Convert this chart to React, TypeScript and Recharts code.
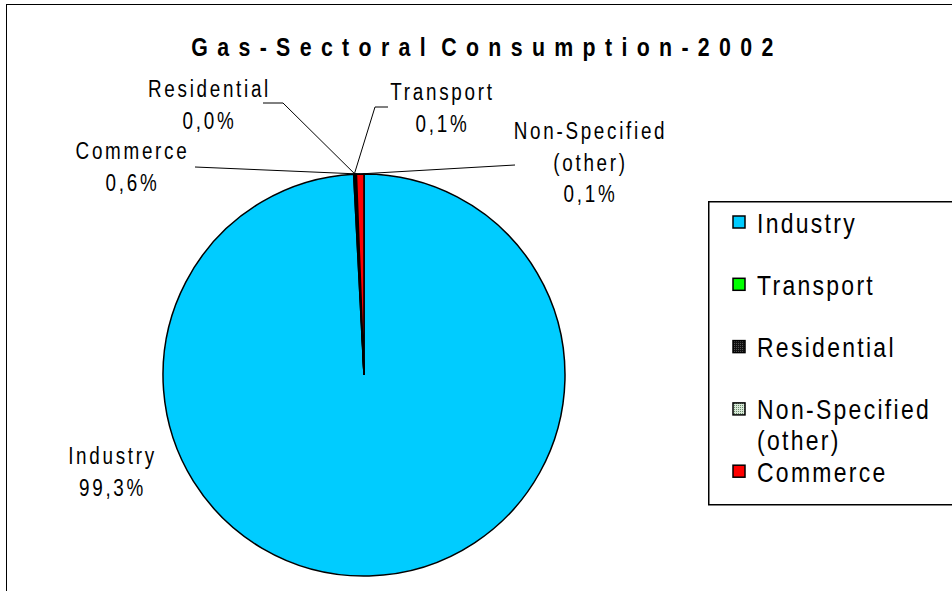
import React from "react";
import { PieChart, Pie, Cell, Legend } from "recharts";

const sectors = ["Industry", "Transport", "Residential", "Non-Specified (other)", "Commerce"];
const shares = [99.3, 0.1, 0.02, 0.1, 0.6];
const colors = ["#00CCFF", "#00FF00", "#111111", "#C8DCC8", "#FF0000"];

const data = sectors.map((name, i) => ({ name, value: shares[i] }));

const FONT = "'Liberation Sans', Arial, sans-serif";
const NARROW = 0.82; // fake Arial Narrow by squeezing Liberation Sans

// label placement relative to the pie centre
const labelLayout: Record<string, { dx: number; dy: number; lines: string[]; leader?: [number, number][] }> = {
  Industry: { dx: -253, dy: 89, lines: ["Industry"] },
  Transport: { dx: 77, dy: -275, lines: ["Transport"], leader: [[11, -268], [24, -268]] },
  Residential: { dx: -156, dy: -278, lines: ["Residential"], leader: [[-81, -272], [-101, -272]] },
  "Non-Specified (other)": { dx: 225, dy: -236, lines: ["Non-Specified", "(other)"], leader: [[151, -210]] },
  Commerce: { dx: -233, dy: -216, lines: ["Commerce"], leader: [[-169, -208]] },
};

const RAD = Math.PI / 180;

function NarrowText({ x, y, size, spacing, anchor = "start", bold = false, wordSpacing = 0, children }: any) {
  return (
    <text
      transform={`translate(${x},${y}) scale(${NARROW},1)`}
      textAnchor={anchor}
      fontFamily={FONT}
      fontSize={size}
      fontWeight={bold ? "bold" : "normal"}
      letterSpacing={spacing}
      wordSpacing={wordSpacing}
      fill="#000"
    >
      {children}
    </text>
  );
}

function renderLabel(props: any) {
  const { cx, cy, midAngle, outerRadius, name, value } = props;
  const lay = labelLayout[name];
  if (!lay) return null;
  const ax = cx + outerRadius * Math.cos(-midAngle * RAD);
  const ay = cy + outerRadius * Math.sin(-midAngle * RAD);
  const pct = value.toFixed(1).replace(".", ",") + "%";
  const lines = [...lay.lines, pct];
  return (
    <g>
      {lay.leader && (
        <polyline
          points={[[ax, ay], ...lay.leader.map(([x, y]) => [cx + x, cy + y])].map((p) => p.join(",")).join(" ")}
          fill="none"
          stroke="#000"
          strokeWidth={1}
        />
      )}
      {lines.map((t, i) => (
        <NarrowText key={i} x={cx + lay.dx + 1.5} y={cy + lay.dy + i * 31.5} size={23} spacing={3.3} anchor="middle">
          {t}
        </NarrowText>
      ))}
    </g>
  );
}

function renderLegend() {
  const rows: string[][] = [["Industry"], ["Transport"], ["Residential"], ["Non-Specified", "(other)"], ["Commerce"]];
  const fills = [colors[0], colors[1], "url(#resPat)", "url(#nsPat)", colors[4]];
  return (
    <svg width={250} height={306} style={{ display: "block" }}>
      <defs>
        <pattern id="resPat" width={2} height={2} patternUnits="userSpaceOnUse">
          <rect width={2} height={2} fill="#111" />
          <rect width={1} height={1} fill="#555" />
        </pattern>
        <pattern id="nsPat" width={2} height={2} patternUnits="userSpaceOnUse">
          <rect width={2} height={2} fill="#D8E8D8" />
          <rect width={1} height={1} fill="#6A8A6A" />
        </pattern>
      </defs>
      <rect x={0.75} y={0.75} width={260} height={303} fill="#fff" stroke="#000" strokeWidth={1.5} />
      {rows.map((parts, i) => {
        const cyRow = 21 + i * 62.3;
        return (
          <g key={i}>
            <rect x={25} y={cyRow - 6} width={12} height={12} fill={fills[i]} stroke="#000" strokeWidth={1.5} />
            {parts.map((p, j) => (
              <NarrowText key={j} x={49} y={cyRow + 10.5 + j * 31} size={28} spacing={2.8}>
                {p}
              </NarrowText>
            ))}
          </g>
        );
      })}
    </svg>
  );
}

export default function App() {
  return (
    <div style={{ position: "absolute", left: 0, top: 0, width: 952, height: 591, background: "#fff", overflow: "hidden" }}>
      <div
        style={{
          position: "absolute",
          left: 6,
          top: 4,
          width: 960,
          height: 600,
          borderTop: "1.5px solid #000",
          borderLeft: "1.5px solid #000",
        }}
      />
      <svg width={952} height={70} style={{ position: "absolute", left: 0, top: 0 }}>
        <NarrowText x={487} y={56} size={26} spacing={11.4} wordSpacing={-11} anchor="middle" bold>
          Gas-Sectoral Consumption-2002
        </NarrowText>
      </svg>
      <div style={{ position: "absolute", left: 0, top: 0 }}>
        <PieChart width={952} height={591} margin={{ top: 0, right: 0, bottom: 0, left: 0 }}>
          <Pie
            data={data}
            dataKey="value"
            nameKey="name"
            cx={364}
            cy={375}
            outerRadius={201}
            startAngle={90}
            endAngle={-270}
            stroke="#000"
            strokeWidth={1.5}
            label={renderLabel}
            labelLine={false}
            isAnimationActive={false}
          >
            {data.map((d, i) => (
              <Cell key={d.name} fill={colors[i]} />
            ))}
          </Pie>
          <Legend
            content={renderLegend}
            wrapperStyle={{ position: "absolute", left: 708, top: 201, width: 250, height: 306 }}
          />
        </PieChart>
      </div>
    </div>
  );
}
